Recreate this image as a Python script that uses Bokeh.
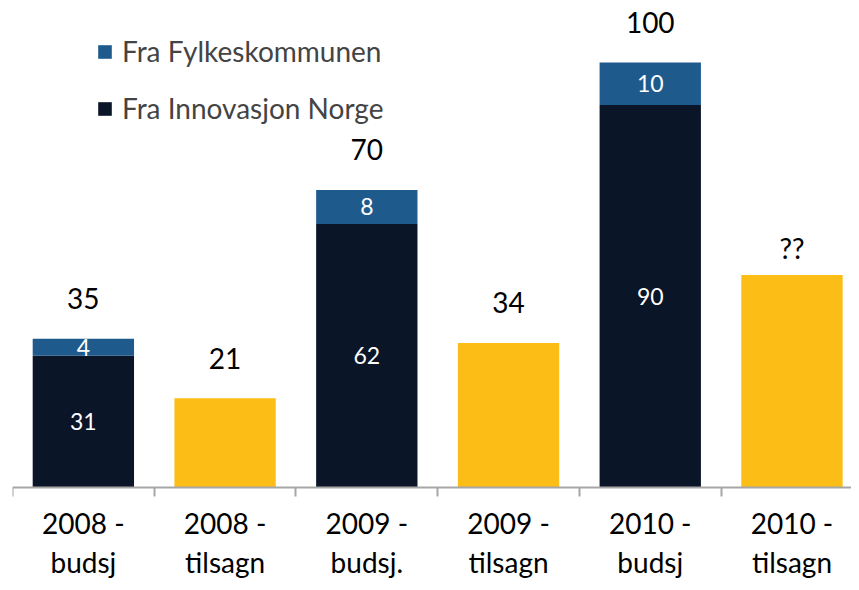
from bokeh.plotting import figure
from bokeh.models import ColumnDataSource, FixedTicker, Legend, LegendItem
from bokeh.core.properties import value
from bokeh.embed import file_html
from bokeh.resources import INLINE

categories = ["2008 -\nbudsj", "2008 -\ntilsagn", "2009 -\nbudsj.",
              "2009 -\ntilsagn", "2010 -\nbudsj", "2010 -\ntilsagn"]
budsj_idx = [0, 2, 4]
innovasjon = [31, 62, 90]
fylke = [4, 8, 10]
budsj_totals = ["35", "70", "100"]
tilsagn_idx = [1, 3, 5]
tilsagn = [21, 34, 50]
tilsagn_labels = ["21", "34", "??"]

NAVY = "#0A1527"
BLUE = "#1F5A8D"
YELLOW = "#FBBD16"
FONT = "Lato"

bx = [i + 0.5 for i in budsj_idx]
tx = [i + 0.5 for i in tilsagn_idx]
tops = [a + b for a, b in zip(innovasjon, fylke)]

src_b = ColumnDataSource(dict(
    x=bx, inn=innovasjon, fyl=fylke, top=tops,
    inn_mid=[v / 2 for v in innovasjon],
    fyl_mid=[a + b / 2 for a, b in zip(innovasjon, fylke)],
    inn_lab=[str(v) for v in innovasjon],
    fyl_lab=[str(v) for v in fylke],
    tot_lab=budsj_totals,
))
src_t = ColumnDataSource(dict(x=tx[:2], top=tilsagn[:2], lab=tilsagn_labels[:2]))
src_q = ColumnDataSource(dict(x=tx[2:], top=tilsagn[2:], lab=tilsagn_labels[2:]))
src_ty = ColumnDataSource(dict(x=tx, top=tilsagn))

p = figure(width=851, height=582, output_backend="svg", toolbar_location=None,
           x_range=(0, 5.92), y_range=(-22.35, 112.7),
           min_border_left=12, min_border_right=0, min_border_top=8,
           min_border_bottom=0, outline_line_color=None)

W = 0.715
r_inn = p.vbar(x="x", top="inn", bottom=0, width=W, source=src_b,
               fill_color=NAVY, line_color=None)
r_fyl = p.vbar(x="x", top="top", bottom="inn", width=W, source=src_b,
               fill_color=BLUE, line_color=None)
p.vbar(x="x", top="top", bottom=0, width=W, source=src_ty,
       fill_color=YELLOW, line_color=None)

common = dict(text_font=value(FONT), text_align="center")
p.text(x="x", y="inn_mid", text="inn_lab", source=src_b, text_color="white",
       text_font_size="23px", text_baseline="middle", **common)
p.text(x="x", y="fyl_mid", text="fyl_lab", source=src_b, text_color="white",
       text_font_size="23px", text_baseline="middle", **common)
p.text(x="x", y="top", text="tot_lab", source=src_b, text_color="black",
       text_font_size="28px", text_baseline="alphabetic", y_offset=-40, **common)
p.text(x="x", y="top", text="lab", source=src_t, text_color="black",
       text_font_size="28px", text_baseline="alphabetic", y_offset=-40, **common)
p.text(x="x", y="top", text="lab", source=src_q, text_color="black",
       text_font_size="28px", text_baseline="alphabetic", y_offset=-27, **common)

p.yaxis.visible = False
p.xgrid.visible = False
p.ygrid.visible = False

ax = p.xaxis[0]
ax.fixed_location = 0
ax.ticker = FixedTicker(ticks=[i + 0.5 for i in range(len(categories))],
                        minor_ticks=list(range(len(categories) + 1)))
ax.major_label_overrides = {i + 0.5: c for i, c in enumerate(categories)}
ax.axis_line_color = "#A6A6A6"
ax.axis_line_width = 2
ax.major_tick_line_color = None
ax.minor_tick_line_color = "#A6A6A6"
ax.minor_tick_line_width = 2
ax.minor_tick_in = 0
ax.minor_tick_out = 9
ax.major_tick_in = 0
ax.major_tick_out = 0
ax.major_label_standoff = 9
ax.major_label_text_font = FONT
ax.major_label_text_font_size = "28px"
ax.major_label_text_color = "black"
ax.major_label_text_line_height = 1.15

legend = Legend(items=[
    LegendItem(label="Fra Fylkeskommunen", renderers=[r_fyl]),
    LegendItem(label="Fra Innovasjon Norge", renderers=[r_inn]),
], location=(84, 457), padding=0, margin=0, spacing=23,
    glyph_width=17, glyph_height=17, label_height=31, label_standoff=9,
    label_text_font=FONT, label_text_font_size="28px",
    border_line_color=None, background_fill_alpha=0)
p.add_layout(legend, "center")

open("out.html", "w").write(file_html(p, INLINE))
